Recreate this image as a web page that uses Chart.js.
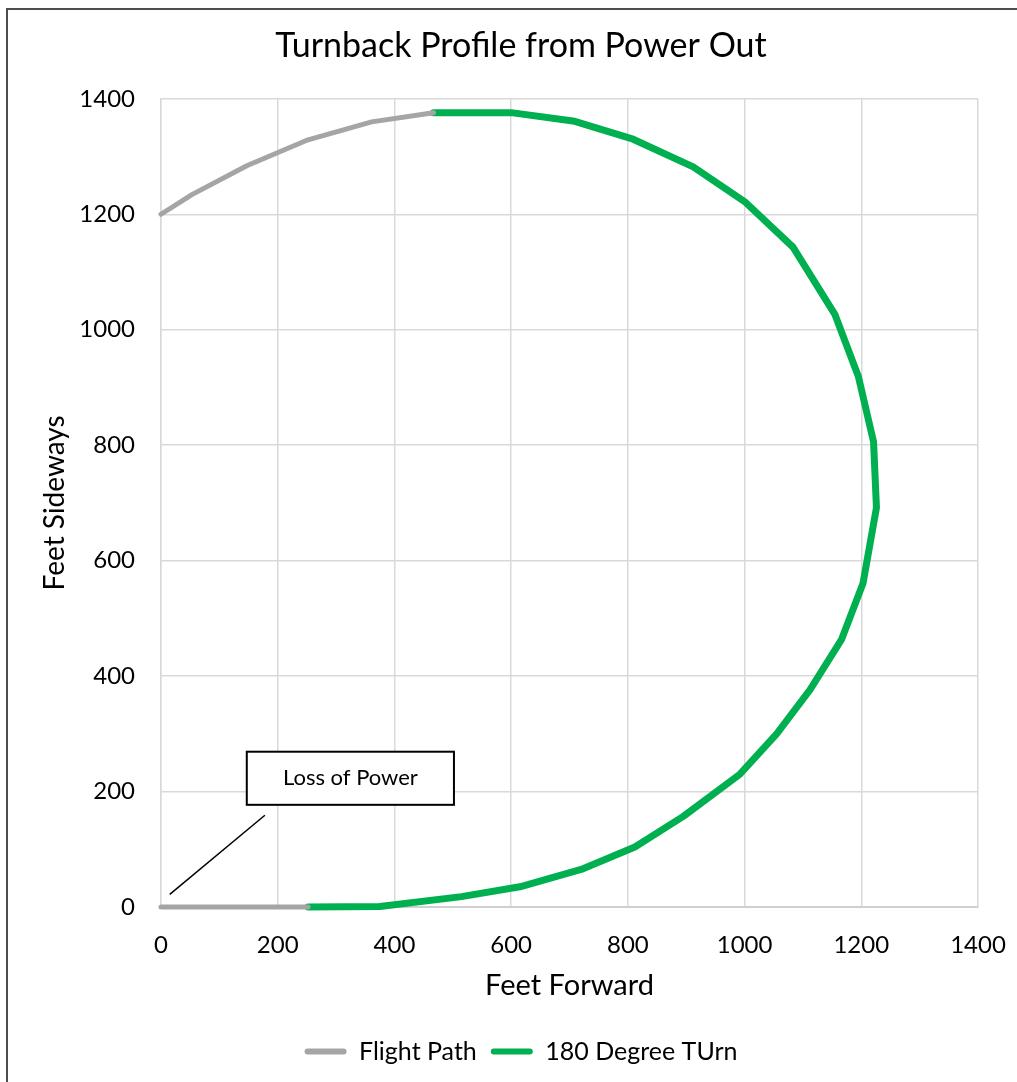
<!DOCTYPE html>
<html>
<head>
<meta charset="utf-8">
<script src="https://cdn.jsdelivr.net/npm/chart.js@4.4.1/dist/chart.umd.min.js"></script>
<style>
  html, body { margin: 0; padding: 0; background: #fff; }
  body { width: 1017px; height: 1082px; position: relative; overflow: hidden; }
  #frame { position: absolute; left: 6px; top: 8px; width: 1100px; height: 1200px;
           border-left: 2px solid #4d4d4d; border-top: 2px solid #4d4d4d; box-sizing: border-box; }
  #wrap { position: absolute; left: 0; top: 0; width: 1017px; height: 1082px; }
</style>
</head>
<body>
<div id="frame"></div>
<div id="wrap"><canvas id="chart" width="1017" height="1082"></canvas></div>
<script>
// Ground track of the glide after the engine quits (feet)
const flightPathX = [0, 126, 252, null, 0, 53, 147, 252, 361, 467];
const flightPathY = [0, 0, 0, null, 1200, 1234, 1284, 1329, 1360, 1376];

const turnX = [252, 375, 515, 615, 720, 812, 895, 992, 1055, 1112, 1166, 1203, 1226, 1221, 1195, 1155, 1083, 1000, 912, 809, 709, 600, 467];
const turnY = [0, 1, 18, 35, 65, 104, 157, 230, 300, 376, 463, 561, 692, 806, 919, 1026, 1143, 1222, 1282, 1330, 1361, 1376, 1376];

const axisTicks = [0, 200, 400, 600, 800, 1000, 1200, 1400];

// Callout box and leader line, in feet
const calloutText = 'Loss of Power';
const calloutBox = { x0: 147, x1: 502, y0: 177, y1: 269 };
const calloutLeader = { x0: 15, y0: 22, x1: 178, y1: 159 };

const toPoints = (xs, ys) => xs.map((x, i) => ({ x: x, y: ys[i] }));

const FONT = 'Lato, "Open Sans", sans-serif';

const calloutPlugin = {
  id: 'callout',
  afterDatasetsDraw(chart) {
    const { ctx, scales: { x, y } } = chart;
    ctx.save();
    ctx.strokeStyle = '#000';
    ctx.lineWidth = 1.5;
    ctx.beginPath();
    ctx.moveTo(x.getPixelForValue(calloutLeader.x0), y.getPixelForValue(calloutLeader.y0));
    ctx.lineTo(x.getPixelForValue(calloutLeader.x1), y.getPixelForValue(calloutLeader.y1));
    ctx.stroke();
    const bx0 = x.getPixelForValue(calloutBox.x0), bx1 = x.getPixelForValue(calloutBox.x1);
    const by0 = y.getPixelForValue(calloutBox.y1), by1 = y.getPixelForValue(calloutBox.y0);
    ctx.fillStyle = '#fff';
    ctx.fillRect(bx0, by0, bx1 - bx0, by1 - by0);
    ctx.lineWidth = 2;
    ctx.strokeRect(bx0, by0, bx1 - bx0, by1 - by0);
    ctx.fillStyle = '#000';
    ctx.font = '22px ' + FONT;
    ctx.textAlign = 'center';
    ctx.textBaseline = 'middle';
    ctx.fillText(calloutText, (bx0 + bx1) / 2, (by0 + by1) / 2);
    ctx.restore();
  }
};

const tickFont = { family: FONT, size: 24 };
const plainNumber = v => String(v);

new Chart(document.getElementById('chart'), {
  type: 'scatter',
  data: {
    datasets: [
      {
        label: 'Flight Path',
        data: toPoints(flightPathX, flightPathY),
        showLine: true,
        spanGaps: false,
        borderColor: '#a5a5a5',
        backgroundColor: '#a5a5a5',
        borderWidth: 5,
        borderCapStyle: 'round',
        borderJoinStyle: 'round',
        pointRadius: 0,
        pointHoverRadius: 0,
        clip: false
      },
      {
        label: '180 Degree TUrn',
        data: toPoints(turnX, turnY),
        showLine: true,
        borderColor: '#00b050',
        backgroundColor: '#00b050',
        borderWidth: 7,
        borderCapStyle: 'round',
        borderJoinStyle: 'round',
        pointRadius: 0,
        pointHoverRadius: 0,
        clip: false
      }
    ]
  },
  options: {
    responsive: false,
    animation: false,
    layout: { padding: { left: 34, right: 9, top: 0, bottom: 8 } },
    plugins: {
      title: {
        display: true,
        text: 'Turnback Profile from Power Out',
        color: '#000',
        font: { family: FONT, size: 34, weight: 'normal' },
        padding: { top: 26, bottom: 32 }
      },
      legend: {
        position: 'bottom',
        labels: {
          color: '#000',
          font: { family: FONT, size: 25 },
          boxWidth: 42,
          boxHeight: 6,
          padding: 14,
          useBorderRadius: true,
          borderRadius: 3,
          generateLabels(chart) {
            return chart.data.datasets.map((ds, i) => ({
              text: ds.label,
              fillStyle: ds.borderColor,
              strokeStyle: ds.borderColor,
              lineWidth: 0,
              borderRadius: 3,
              hidden: false,
              datasetIndex: i,
              fontColor: '#000'
            }));
          }
        }
      },
      tooltip: { enabled: false }
    },
    scales: {
      x: {
        type: 'linear',
        min: 0,
        max: 1400,
        afterBuildTicks(s) { s.ticks = axisTicks.map(v => ({ value: v })); },
        afterFit(s) { s.height = 118; },
        grid: { color: '#d9d9d9', lineWidth: 1.5, drawTicks: true, tickLength: 21, tickColor: 'rgba(0,0,0,0)' },
        border: { color: '#d0d0d0', width: 2 },
        ticks: { color: '#000', font: tickFont, padding: 3, maxRotation: 0, callback: plainNumber },
        title: {
          display: true,
          text: 'Feet Forward',
          color: '#000',
          font: { family: FONT, size: 29 },
          padding: { top: 10, bottom: 22 }
        }
      },
      y: {
        type: 'linear',
        min: 0,
        max: 1400,
        afterBuildTicks(s) { s.ticks = axisTicks.map(v => ({ value: v })); },
        afterFit(s) { s.width = 127; },
        grid: { color: '#d9d9d9', lineWidth: 1.5, drawTicks: false },
        border: { color: '#d9d9d9', width: 1.5 },
        ticks: { color: '#000', font: tickFont, padding: 26, callback: plainNumber },
        title: {
          display: true,
          text: 'Feet Sideways',
          color: '#000',
          font: { family: FONT, size: 28 },
          padding: { top: 4, bottom: 4 }
        }
      },
      y2: {
        type: 'linear',
        position: 'right',
        display: true,
        afterFit(s) { s.width = 30; },
        grid: { display: false },
        border: { display: false },
        ticks: { display: false }
      }
    }
  },
  plugins: [calloutPlugin]
});
</script>
</body>
</html>
